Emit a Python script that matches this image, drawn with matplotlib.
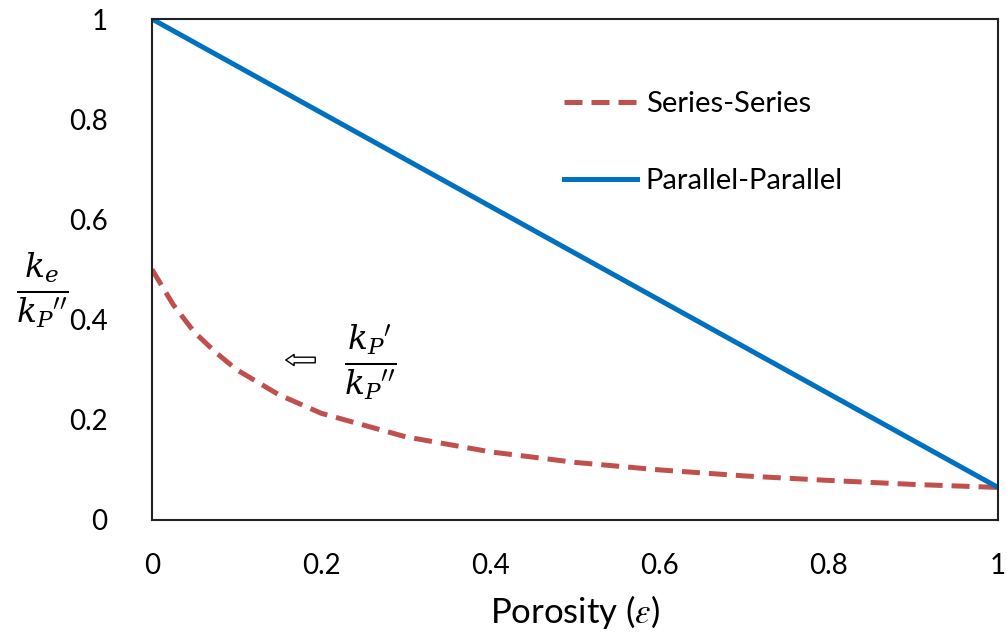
import numpy as np
import matplotlib.pyplot as plt
from matplotlib.ticker import FuncFormatter

plt.rcParams['font.family'] = ['Lato', 'DejaVu Sans']
plt.rcParams['mathtext.fontset'] = 'stix'

# values
porosity = [0, 0.025, 0.05, 0.075, 0.1, 0.15, 0.2, 0.3, 0.4, 0.5, 0.6, 0.7, 0.8, 0.9, 1.0]
series_series = [0.5, 0.43, 0.375, 0.335, 0.30, 0.25, 0.213, 0.166, 0.136, 0.115, 0.10, 0.088, 0.079, 0.071, 0.065]
par_x = [0, 1]
parallel_parallel = [1.0, 0.065]

red = '#C0504D'
blue = '#0070C0'

fig = plt.figure(figsize=(10.07, 6.38), dpi=100)
ax = fig.add_axes([152/1007, 1-520/638, 846/1007, 501/638])

ax.plot(porosity, series_series, color=red, lw=3.6, dashes=(3.6, 1.8), label='Series-Series')
ax.plot(par_x, parallel_parallel, color=blue, lw=3.6, label='Parallel-Parallel')

ax.set_xlim(0, 1)
ax.set_ylim(0, 1)
ticks = [0, 0.2, 0.4, 0.6, 0.8, 1]
fmt = FuncFormatter(lambda v, p: '%g' % v)
ax.set_xticks(ticks)
ax.set_yticks(ticks)
ax.xaxis.set_major_formatter(fmt)
ax.yaxis.set_major_formatter(fmt)
ax.tick_params(length=0, labelsize=20, colors='#000000')
ax.tick_params(axis='x', pad=24)
ax.tick_params(axis='y', pad=32)
for s in ax.spines.values():
    s.set_color('#222222')
    s.set_linewidth(1.5)

ax.set_xlabel(r'Porosity ($\varepsilon$)', fontsize=25, labelpad=10)

leg = ax.legend(loc='upper left', bbox_to_anchor=(0.456, 0.908), frameon=False,
                fontsize=21, handlelength=2.5, handletextpad=0.3, labelspacing=1.75)

fig.text(42/1007, 1-290/638, r"$\frac{k_e}{{k_P}''}$", fontsize=34,
         ha='center', va='center', math_fontfamily='dejavuserif')
fig.text(370/1007, 1-362/638, r"$\frac{{k_P}'}{{k_P}''}$", fontsize=34,
         ha='center', va='center', math_fontfamily='dejavuserif')
ax.annotate('', xy=(283/1007, 1-360/638), xycoords='figure fraction',
            xytext=(318/1007, 1-360/638), textcoords='figure fraction',
            arrowprops=dict(arrowstyle='simple,head_length=0.6,head_width=0.8,tail_width=0.4',
                            fc='white', ec='black', lw=1))

fig.savefig('out.png', dpi=100)
